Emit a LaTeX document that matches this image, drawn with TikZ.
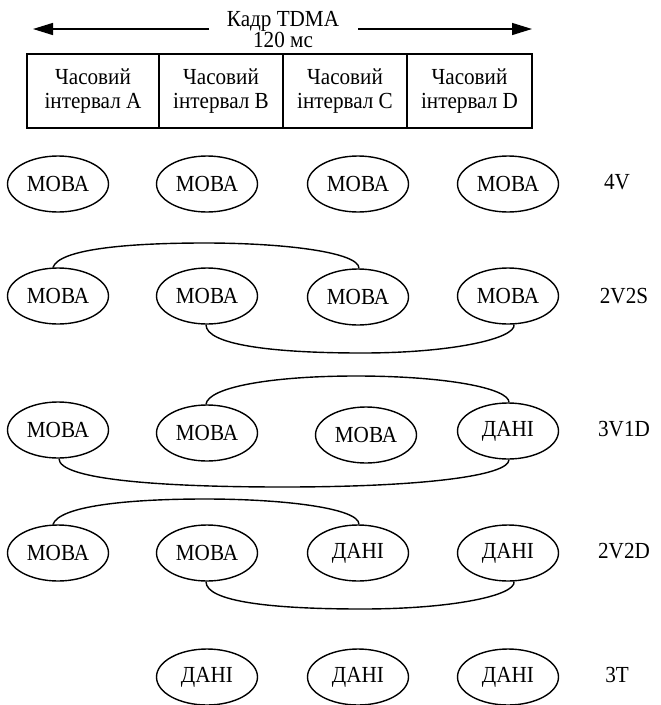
\documentclass[tikz,border=0pt]{standalone}
\usepackage{fontspec}
\setmainfont[FakeStretch=0.92]{Liberation Serif}
\usetikzlibrary{arrows.meta,shapes.geometric}
\begin{document}
\begin{tikzpicture}[x=1pt,y=-1pt,line width=1.4pt,
  every node/.style={font=\fontsize{23}{23.5}\selectfont},
  slot/.style={ellipse,draw,minimum width=101pt,minimum height=56pt,inner sep=0pt},
  cell/.style={draw,minimum height=74pt,align=center,inner sep=0pt},
  mode/.style={inner sep=0pt},
  link/.style={line width=1.4pt},
  tip/.style={-{Triangle[length=20pt,width=12pt]}}]
\useasboundingbox (0,0) rectangle (661,705);

% frame header
\node[align=center,inner sep=0pt,font=\fontsize{23}{21}\selectfont] (title) at (283,30) {Кадр TDMA\\120 мс};
\coordinate (la) at (209,29);
\coordinate (lb) at (33,29);
\coordinate (ra) at (358,29);
\coordinate (rb) at (532,29);
\draw[tip] (la) -- (lb);
\draw[tip] (ra) -- (rb);

% time slots
\node[cell,minimum width=132pt] (sA) at (93,91) {Часовий\\інтервал A};
\node[cell,minimum width=124pt] (sB) at (221,91) {Часовий\\інтервал B};
\node[cell,minimum width=124pt] (sC) at (345,91) {Часовий\\інтервал C};
\node[cell,minimum width=125pt] (sD) at (469.5,91) {Часовий\\інтервал D};

% 4V
\node[slot] (a1) at (58,184) {МОВА};
\node[slot] (a2) at (207,184) {МОВА};
\node[slot] (a3) at (358,184) {МОВА};
\node[slot] (a4) at (508,184) {МОВА};
\node[mode] (la1) at (617,182) {4V};

% 2V2S
\node[slot] (b1) at (58,296) {МОВА};
\node[slot] (b2) at (207,296) {МОВА};
\node[slot] (b3) at (358,297) {МОВА};
\node[slot] (b4) at (508,296) {МОВА};
\node[mode] (lb1) at (624,296) {2V2S};
\coordinate (bt) at (205,243);
\coordinate (bb) at (362,353);
\draw[link] (b1.100) .. controls +(6,-18) and +(-80,0) .. (bt)
                     .. controls +(80,0) and +(0,-16) .. (b3.88);
\draw[link] (b2.268) .. controls +(0,20) and +(-90,0) .. (bb)
                     .. controls +(90,0) and +(2,14) .. (b4.-78);

% 3V1D
\node[slot] (c1) at (58,430) {МОВА};
\node[slot] (c2) at (207,433) {МОВА};
\node[slot] (c3) at (366,435) {МОВА};
\node[slot] (c4) at (508,431) {ДАНІ};
\node[mode] (lc1) at (624,429) {3V1D};
\coordinate (ct) at (356,376);
\coordinate (cb) at (283,487);
\draw[link] (c2.92) .. controls +(2,-17) and +(-85,0) .. (ct)
                    .. controls +(90,0) and +(0,-14) .. (c4.88);
\draw[link] (c1.-88) .. controls +(0,20) and +(-130,0) .. (cb)
                     .. controls +(140,0) and +(0,16) .. (c4.-88);

% 2V2D
\node[slot] (d1) at (58,553) {МОВА};
\node[slot] (d2) at (207,553) {МОВА};
\node[slot] (d3) at (358,553) {ДАНІ};
\node[slot] (d4) at (508,553) {ДАНІ};
\node[mode] (ld1) at (624,551) {2V2D};
\coordinate (dt) at (205,499);
\coordinate (db) at (362,609);
\draw[link] (d1.100) .. controls +(6,-18) and +(-80,0) .. (dt)
                     .. controls +(80,0) and +(0,-16) .. (d3.88);
\draw[link] (d2.268) .. controls +(0,20) and +(-90,0) .. (db)
                     .. controls +(90,0) and +(2,14) .. (d4.-78);

% 3T
\node[slot] (e2) at (207,677) {ДАНІ};
\node[slot] (e3) at (358,677) {ДАНІ};
\node[slot] (e4) at (508,677) {ДАНІ};
\node[mode] (le1) at (617,675) {3T};
\end{tikzpicture}
\end{document}
